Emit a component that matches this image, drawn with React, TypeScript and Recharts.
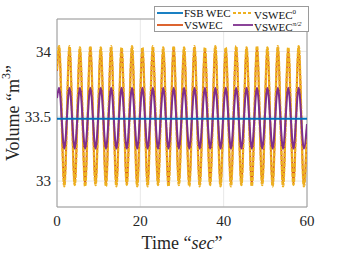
import React from 'react';
import { LineChart, Line, XAxis, YAxis, CartesianGrid, ReferenceArea } from 'recharts';

// time of each crest / trough (sec)
const time = [
  0, 0.5, 1.75, 3, 4.25, 5.5, 6.75, 8, 9.25, 10.5, 11.75, 13, 14.25, 15.5, 16.75, 18,
  19.25, 20.5, 21.75, 23, 24.25, 25.5, 26.75, 28, 29.25, 30.5, 31.75, 33, 34.25, 35.5,
  36.75, 38, 39.25, 40.5, 41.75, 43, 44.25, 45.5, 46.75, 48, 49.25, 50.5, 51.75, 53,
  54.25, 55.5, 56.75, 58, 59.25, 60,
];

const vswec = [
  33.85, 34.03, 32.97, 34.03, 32.98, 34.02, 32.97, 34.03, 32.98, 34.02, 32.97, 34.03,
  32.97, 34.02, 32.98, 34.03, 32.97, 34.02, 32.97, 34.03, 32.98, 34.02, 32.97, 34.03,
  32.98, 34.02, 32.97, 34.03, 32.97, 34.02, 32.98, 34.03, 32.97, 34.02, 32.97, 34.03,
  32.98, 34.02, 32.97, 34.03, 32.98, 34.02, 32.97, 34.03, 32.97, 34.02, 32.98, 34.03,
  32.97, 33.4,
];

const vswec0 = [
  33.86, 34.04, 32.96, 34.04, 32.97, 34.03, 32.96, 34.04, 32.97, 34.03, 32.96, 34.04,
  32.96, 34.03, 32.97, 34.04, 32.96, 34.03, 32.96, 34.04, 32.97, 34.03, 32.96, 34.04,
  32.97, 34.03, 32.96, 34.04, 32.96, 34.03, 32.97, 34.04, 32.96, 34.03, 32.96, 34.04,
  32.97, 34.03, 32.96, 34.04, 32.97, 34.03, 32.96, 34.04, 32.96, 34.03, 32.97, 34.04,
  32.96, 33.4,
];

const vswecHalfPi = [
  33.64, 33.72, 33.25, 33.72, 33.25, 33.72, 33.25, 33.72, 33.25, 33.72, 33.25, 33.72,
  33.25, 33.72, 33.25, 33.72, 33.25, 33.72, 33.25, 33.72, 33.25, 33.72, 33.25, 33.72,
  33.25, 33.72, 33.25, 33.72, 33.25, 33.72, 33.25, 33.72, 33.25, 33.72, 33.25, 33.72,
  33.25, 33.72, 33.25, 33.72, 33.25, 33.72, 33.25, 33.72, 33.25, 33.72, 33.25, 33.72,
  33.25, 33.44,
];

const fsbTime = [0, 60];
const fsbWec = [33.48, 33.48];

const xTicks = [0, 20, 40, 60];
const yTicks = [33, 33.5, 34];

const COLORS = {
  fsb: '#0072BD',
  vswec: '#D95319',
  vswec0: '#EDB120',
  halfPi: '#7E2F8E',
};

const FONT = '"Liberation Serif", "Times New Roman", serif';

const toRows = (ts: number[], vs: number[]) => ts.map((t, i) => ({ t, v: vs[i] }));

const YLabel = () => (
  <text
    x={13}
    y={113}
    transform="rotate(-90 13 113)"
    textAnchor="middle"
    dominantBaseline="central"
    fontFamily={FONT}
    fontSize={18}
    fill="#262626"
  >
    Volume “m<tspan dy={-7} fontSize={12}>3</tspan>
    <tspan dy={7}>”</tspan>
  </text>
);

const XLabel = () => (
  <text x={182} y={243} textAnchor="middle" dominantBaseline="central" fontFamily={FONT} fontSize={18} fill="#262626">
    Time “<tspan fontStyle="italic">sec</tspan>”
  </text>
);

const legendItems = [
  { name: 'FSB WEC', sup: '', color: COLORS.fsb, dash: false },
  { name: 'VSWEC', sup: '0', color: COLORS.vswec0, dash: true },
  { name: 'VSWEC', sup: '', color: COLORS.vswec, dash: false },
  { name: 'VSWEC', sup: 'π/2', color: COLORS.halfPi, dash: false },
];

const ChartLegend = () => (
  <div
    style={{
      position: 'absolute',
      left: 154,
      top: 6,
      width: 155,
      height: 26,
      boxSizing: 'border-box',
      border: '1px solid #9a9a9a',
      background: 'white',
      fontFamily: FONT,
      fontSize: 11,
      color: '#111',
      display: 'grid',
      gridTemplateColumns: '76px 77px',
      gridTemplateRows: '12px 12px',
      alignItems: 'center',
      padding: '0 0 0 2px',
    }}
  >
    {legendItems.map((it, i) => (
      <div key={i} style={{ display: 'flex', alignItems: 'center', whiteSpace: 'nowrap', lineHeight: '12px' }}>
        <svg width={i % 2 === 0 ? 26 : 20} height={6} style={{ marginRight: 1 }}>
          <line
            x1={0}
            y1={3}
            x2={i % 2 === 0 ? 26 : 20}
            y2={3}
            stroke={it.color}
            strokeWidth={1.8}
            strokeDasharray={it.dash ? '3 2' : undefined}
          />
        </svg>
        <span>
          {it.name}
          {it.sup && <sup style={{ fontSize: 7, fontStyle: it.sup === '0' ? 'normal' : 'italic' }}>{it.sup}</sup>}
        </span>
      </div>
    ))}
  </div>
);

export default function App() {
  return (
    <div style={{ position: 'absolute', left: 0, top: 0, width: 339, height: 254, background: 'white' }}>
      <LineChart width={339} height={254} margin={{ top: 19, right: 32, bottom: 17, left: 7 }}>
        <CartesianGrid stroke="#e8e8e8" strokeWidth={1} />
        <XAxis
          type="number"
          dataKey="t"
          domain={[0, 60]}
          ticks={xTicks}
          height={30}
          tickLine={false}
          axisLine={false}
          tick={{ fontFamily: FONT, fontSize: 15, fill: '#262626' }}
          allowDataOverflow
        />
        <YAxis
          type="number"
          domain={[32.8, 34.25]}
          ticks={yTicks}
          width={50}
          tickLine={false}
          axisLine={false}
          tickMargin={0}
          tick={{ fontFamily: FONT, fontSize: 15, fill: '#262626' }}
          allowDataOverflow
        />
        <ReferenceArea x1={0} x2={60} y1={32.8} y2={34.25} fill="none" stroke="#9a9a9a" strokeWidth={1} fillOpacity={0} />
        <Line
          data={toRows(time, vswec)}
          dataKey="v"
          type="monotone"
          stroke={COLORS.vswec}
          strokeWidth={1.8}
          dot={false}
          isAnimationActive={false}
        />
        <Line
          data={toRows(time, vswec0)}
          dataKey="v"
          type="monotone"
          stroke={COLORS.vswec0}
          strokeWidth={2.4}
          strokeDasharray="4 1"
          dot={false}
          isAnimationActive={false}
        />
        <Line
          data={toRows(time, vswecHalfPi)}
          dataKey="v"
          type="monotone"
          stroke={COLORS.halfPi}
          strokeWidth={2}
          dot={false}
          isAnimationActive={false}
        />
        <Line
          data={toRows(fsbTime, fsbWec)}
          dataKey="v"
          type="linear"
          stroke={COLORS.fsb}
          strokeWidth={2}
          dot={false}
          isAnimationActive={false}
        />
      </LineChart>
      <svg width={339} height={254} style={{ position: 'absolute', left: 0, top: 0, pointerEvents: 'none' }}>
        <YLabel />
        <XLabel />
      </svg>
      <ChartLegend />
    </div>
  );
}
